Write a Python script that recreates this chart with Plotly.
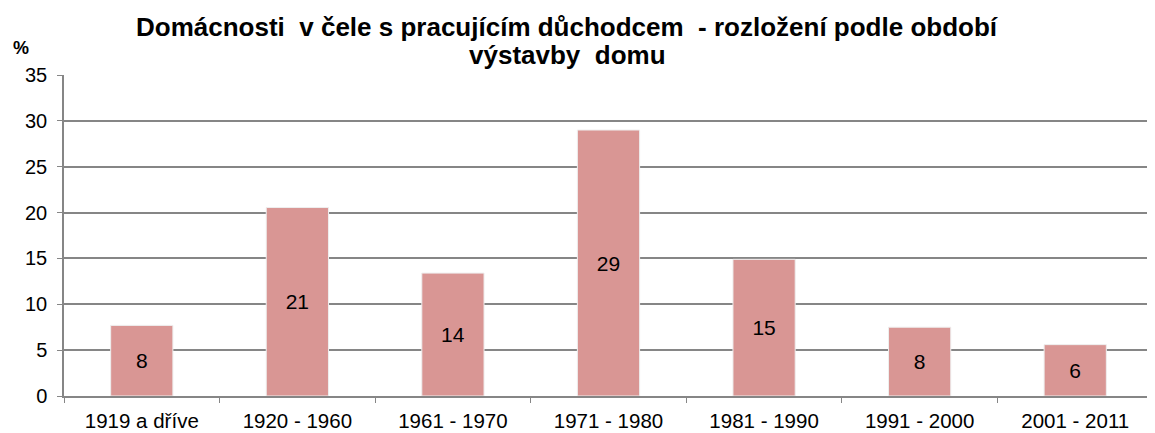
import plotly.graph_objects as go

categories = ["1919 a dříve", "1920 - 1960", "1961 - 1970", "1971 - 1980", "1981 - 1990", "1991 - 2000", "2001 - 2011"]
values = [7.7, 20.55, 13.4, 29.0, 14.9, 7.5, 5.6]
labels = ["8", "21", "14", "29", "15", "8", "6"]
y_ticks = [0, 5, 10, 15, 20, 25, 30, 35]
title_lines = ["Domácnosti \u00a0v čele s pracujícím důchodcem \u00a0- rozložení podle období", "výstavby \u00a0domu"]

FONT = "Liberation Sans, Arial"

fig = go.Figure()
fig.add_trace(go.Bar(
    x=categories, y=values, text=labels,
    textposition="inside", insidetextanchor="middle",
    textfont=dict(family=FONT, size=21, color="black"),
    marker=dict(color="#D99694", line=dict(color="#eeeeee", width=1)),
    width=0.40,
))

fig.update_layout(
    width=1147, height=425,
    paper_bgcolor="white", plot_bgcolor="white",
    margin=dict(l=56, r=2, t=67, b=37),
    showlegend=False,
    font=dict(family=FONT, color="black"),
    uniformtext=dict(minsize=21, mode="show"),
)
fig.update_xaxes(
    showline=True, linecolor="#868686", linewidth=1.5,
    ticks="outside", tickson="boundaries", ticklen=5, tickcolor="#868686",
    tickfont=dict(size=20.5), showgrid=False, ticklabelstandoff=6,
)
fig.update_yaxes(
    range=[0, 35], tickvals=y_ticks,
    showline=True, linecolor="#868686", linewidth=1.5,
    ticks="outside", ticklen=5, tickcolor="#868686",
    showgrid=True, gridcolor="#868686", gridwidth=1.5,
    tickfont=dict(size=20), zeroline=False, ticklabelstandoff=6,
)
for txt, yy in zip(title_lines, [1.15, 1.063]):
    fig.add_annotation(
        text="<b>" + txt + "</b>",
        xref="paper", yref="paper", x=0.462, y=yy, yanchor="middle", xanchor="center",
        showarrow=False, font=dict(size=26, family=FONT),
    )
fig.add_annotation(
    text="<b>%</b>", xref="paper", yref="paper", x=-0.0396, y=1.083,
    xanchor="center", yanchor="middle", showarrow=False,
    font=dict(size=18, family=FONT),
)
fig.write_html("out.html")
